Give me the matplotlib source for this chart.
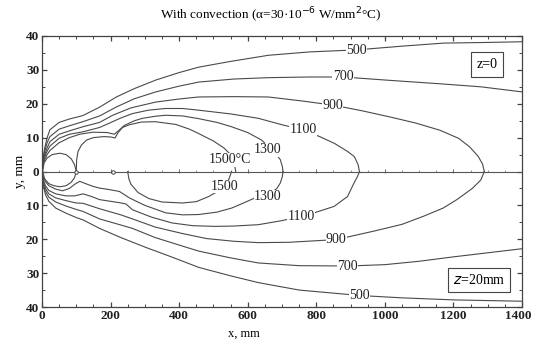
import matplotlib
matplotlib.use("Agg")
import matplotlib.pyplot as plt
from matplotlib.ticker import MultipleLocator, FuncFormatter

plt.rcParams['font.family'] = ['Liberation Serif', 'DejaVu Serif']

# ---------------- data (x in mm, y in mm) ----------------
# upper half: z = 0
t500_x = [0, 3, 8, 15, 23, 50, 80, 119, 168, 217, 270, 332, 400, 457, 550, 660, 780, 917, 1050, 1171, 1300, 1400]
t500_y = [0, 4, 7, 10, 12.3, 14.5, 15.5, 16.5, 19, 22, 24.5, 27, 29.2, 30.8, 32.5, 34.3, 35.3, 35.9, 37.0, 37.9, 38.1, 38.3]
t700_x = [0, 3, 8, 15, 23, 50, 80, 119, 168, 216, 270, 332, 400, 457, 560, 660, 780, 878, 1015, 1160, 1280, 1400]
t700_y = [0, 3.5, 6, 8.5, 10.3, 12.5, 13.5, 14.7, 16.4, 19, 21.5, 23.5, 25.2, 26.4, 27.3, 27.7, 27.9, 27.9, 26.9, 25.9, 25.0, 23.5]
t900_x = [0, 3, 8, 15, 23, 50, 80, 119, 168, 206, 260, 332, 400, 457, 560, 660, 760, 848, 930, 1015, 1090, 1160, 1215, 1247, 1272, 1285, 1290]
t900_y = [0, 3, 5, 7, 8.8, 11, 12, 13.2, 14.5, 16.6, 18.8, 20.5, 21.4, 22, 22.1, 22, 20.8, 19.6, 18, 16.1, 14.3, 12.2, 9.8, 7.3, 4.5, 2.2, 0]
t1100_x = [0, 3, 8, 15, 23, 50, 80, 119, 168, 197, 230, 264, 310, 360, 410, 457, 550, 631, 700, 761, 810, 853, 890, 911, 922, 926]
t1100_y = [0, 2.5, 4.3, 6, 7.5, 9.8, 11, 11.7, 13, 14.3, 15.8, 17.1, 18.1, 18.6, 18.6, 18.1, 17, 15.7, 13.8, 12.3, 10.3, 8.3, 6, 4.4, 2, 0]
t1300_x = [0, 3, 8, 15, 23, 50, 80, 110, 148, 190, 211, 225, 240, 270, 293, 330, 360, 410, 457, 510, 553, 600, 640, 659, 680, 695, 701, 703]
t1300_y = [0, 2, 3.5, 5, 6.2, 8.5, 10, 11, 11.6, 11.5, 11.0, 12.2, 13.6, 15, 15.7, 16.3, 16.6, 16.4, 15.6, 14.5, 13.2, 11.5, 9.3, 7.5, 5.5, 3.5, 1.5, 0]
t1500_x = [100, 101, 105, 115, 130, 150, 180, 200, 213, 222, 235, 255, 290, 330, 390, 430, 457, 500, 530, 550, 560, 565]
t1500_y = [0, 3.4, 5.9, 7.8, 9.3, 10.0, 10.3, 10.2, 9.9, 11.5, 13.0, 13.8, 14.6, 14.7, 13.9, 12.5, 11.2, 9.0, 7.0, 5.0, 3.0, 0]
tloop_x = [2, 6, 15, 30, 52, 70, 85, 95, 100]
tloop_y = [0, 2.5, 4.0, 5.0, 5.4, 5.0, 3.8, 2.0, 0]

# lower half: z = 20 mm
b500_x = [0, 3, 10, 20, 40, 70, 100, 120, 168, 230, 300, 380, 457, 550, 631, 750, 926, 1050, 1200, 1300, 1400]
b500_y = [0, -3.8, -6.8, -8.8, -10.8, -12.3, -13.6, -14.3, -16.8, -19.5, -22.3, -25.3, -28.3, -30.8, -32.8, -35.0, -36.6, -37.3, -37.9, -38.1, -38.3]
b700_x = [0, 3, 10, 20, 40, 70, 100, 120, 168, 230, 264, 330, 409, 457, 550, 631, 750, 892, 1000, 1100, 1200, 1300, 1400]
b700_y = [0, -3.2, -5.8, -7.6, -9.0, -10.2, -11.2, -11.8, -14.0, -15.8, -16.8, -19.5, -22.0, -23.5, -25.5, -27.0, -27.8, -27.9, -27.5, -26.5, -25.2, -24.0, -22.8]
b900_x = [0, 3, 10, 20, 40, 70, 100, 120, 168, 230, 264, 330, 409, 480, 560, 631, 720, 858, 968, 1050, 1113, 1170, 1210, 1255, 1280, 1290]
b900_y = [0, -2.8, -5.0, -6.6, -7.8, -8.6, -9.3, -9.4, -11.0, -12.8, -14.0, -16.4, -18.3, -19.8, -20.6, -21.0, -20.9, -20.1, -17.6, -15.6, -13.2, -10.8, -8.3, -5.0, -2.5, 0]
b1100_x = [0, 3, 10, 20, 40, 70, 95, 120, 145, 168, 200, 226, 245, 264, 320, 380, 440, 505, 560, 631, 700, 756, 794, 852, 891, 910, 920, 926]
b1100_y = [0, -2.2, -4.2, -5.6, -6.6, -7.2, -7.2, -6.6, -7.4, -8.3, -8.8, -9.2, -9.6, -11.3, -13.5, -15.2, -16.0, -16.2, -16.1, -15.7, -14.5, -13.2, -12.2, -10.3, -7.4, -3.4, -1.5, 0]
b1300_x = [0, 3, 10, 20, 40, 60, 80, 95, 110, 125, 149, 168, 200, 226, 255, 300, 361, 410, 457, 510, 553, 590, 621, 659, 685, 695, 701, 703]
b1300_y = [0, -1.5, -3.0, -4.2, -5.2, -5.7, -5.0, -3.8, -2.9, -3.5, -4.4, -4.9, -5.4, -5.9, -7.8, -10.0, -12.2, -12.8, -12.7, -12.0, -10.8, -9.2, -7.8, -7.0, -5.0, -3.4, -1.5, 0]
b1500_x = [250, 253, 259, 280, 312, 350, 409, 450, 486, 510, 533, 545, 553]
b1500_y = [0, -2.0, -3.7, -6.2, -8.0, -9.0, -9.3, -8.9, -7.4, -6.0, -4.4, -2.3, 0]
bloop_x = [2, 8, 20, 35, 52, 70, 85, 95, 100]
bloop_y = [0, -2.2, -3.6, -4.2, -4.5, -4.2, -3.2, -1.8, 0]

source_x = [100, 207]

labels_text = ["500", "700", "900", "1100", "1300", "1500\u00b0C",
               "1500", "1300", "1100", "900", "700", "500"]
labels_x = [917, 878, 848, 761, 659, 547, 533, 659, 756, 858, 892, 926]
labels_y = [35.8, 27.9, 19.6, 12.3, 6.4, 3.4, -4.4, -7.4, -13.2, -20.1, -27.9, -36.6]

x_ticks = [0, 200, 400, 600, 800, 1000, 1200, 1400]
x_tick_labels = ["0", "200", "400", "600", "800", "1000", "1200", ""]
last_x_label = "1400"
y_ticks = [-40, -30, -20, -10, 0, 10, 20, 30, 40]

# ---------------- figure ----------------
fig = plt.figure(figsize=(5.33, 3.42), dpi=100)
ax = fig.add_axes([42 / 533, 1 - 307 / 342, 480 / 533, 271 / 342])

lc = '#4a4a4a'
lw = 0.8
curves = [(t500_x, t500_y), (t700_x, t700_y), (t900_x, t900_y), (t1100_x, t1100_y),
          (t1300_x, t1300_y), (t1500_x, t1500_y), (tloop_x, tloop_y),
          (b500_x, b500_y), (b700_x, b700_y), (b900_x, b900_y), (b1100_x, b1100_y),
          (b1300_x, b1300_y), (b1500_x, b1500_y), (bloop_x, bloop_y)]
for cx, cy in curves:
    ax.plot(cx, cy, color=lc, lw=lw, solid_joinstyle='round')

ax.axhline(0, color='#555555', lw=0.8)
ax.plot(source_x, [0] * len(source_x), 'o', ms=2.5, mfc='white', mec='#444444', mew=0.7)

for s, lx, ly in zip(labels_text, labels_x, labels_y):
    ax.text(lx, ly, s, ha='center', va='center', fontsize=10, color='#222222',
            bbox=dict(boxstyle='square,pad=0.02', fc='white', ec='none'))

ax.set_xlim(0, 1400)
ax.set_ylim(-40, 40)
ax.set_xticks(x_ticks)
ax.set_xticklabels(x_tick_labels)
ax.set_yticks(y_ticks)
ax.xaxis.set_minor_locator(MultipleLocator(50))
ax.yaxis.set_minor_locator(MultipleLocator(5))
ax.yaxis.set_major_formatter(FuncFormatter(lambda v, p: f"{abs(int(v))}"))
ax.tick_params(which='both', direction='in', top=True, right=True, labelsize=9.5, pad=2, color='#444444')
ax.tick_params(which='major', length=3.5, width=0.9)
ax.tick_params(which='minor', length=2.5, width=0.7)
for lab in ax.get_xticklabels() + ax.get_yticklabels():
    lab.set_fontweight('bold')
    lab.set_color('#222222')
ax.annotate(last_x_label, xy=(1400, -40), xytext=(-3, -2), textcoords='offset points',
            ha='center', va='top', fontsize=9.5, fontweight='bold', color='#222222',
            annotation_clip=False)
for sp in ax.spines.values():
    sp.set_color('#444444')
    sp.set_linewidth(0.9)

# ticks on the centre line y = 0
sec = ax.secondary_xaxis(0.5)
sec.set_xticks(x_ticks)
sec.xaxis.set_minor_locator(MultipleLocator(50))
sec.tick_params(which='both', direction='inout', labeltop=False, labelbottom=False, color='#666666')
sec.tick_params(which='major', length=2.8, width=0.7)
sec.tick_params(which='minor', length=2.0, width=0.5)
sec.set_xticklabels([])
for sp in sec.spines.values():
    sp.set_visible(False)

ax.set_xlabel("x, mm", fontsize=9)
ax.xaxis.set_label_coords(0.42, -0.075)
ax.set_ylabel("y, mm", fontsize=9.5, labelpad=0)

ax.text(0.927, 0.895, "z=0", transform=ax.transAxes, ha='center', va='center', fontsize=10,
        bbox=dict(boxstyle='square,pad=0.4', fc='white', ec='#444444', lw=0.8))
ax.text(0.91, 0.1, "$\\it{z}$=20mm", transform=ax.transAxes, ha='center', va='center', fontsize=10,
        bbox=dict(boxstyle='square,pad=0.35', fc='white', ec='#444444', lw=0.8))

fig.text(271 / 533, 1 - 15 / 342, "With convection (\u03b1=30\u00b710$^{-6}$ W/mm$^{2}$\u00b0C)",
         ha='center', va='center', fontsize=9.5)

fig.savefig("out.png", dpi=100)
